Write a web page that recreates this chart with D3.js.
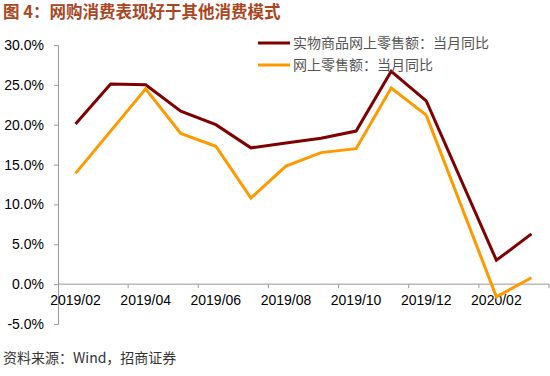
<!DOCTYPE html>
<html lang="zh">
<head>
<meta charset="UTF-8">
<script src="https://d3js.org/d3.v7.min.js"></script>
<style>
  body { margin: 0; background: #fff; }
  svg { display: block; }
  .axis text { font-family: "Liberation Sans", Arial, sans-serif; font-size: 14px; fill: #000; }
  .axis path, .axis line { stroke: #999; }
</style>
</head>
<body>
<svg id="chart" width="550" height="376"></svg>
<script>
// 数据（2020/01 无数据）
const months = ["2019/02","2019/03","2019/04","2019/05","2019/06","2019/07","2019/08",
                "2019/09","2019/10","2019/11","2019/12","2020/01","2020/02","2020/03"];
const physicalOnline = [20.1, 25.1, 25.0, 21.7, 20.0, 17.1, 17.7, 18.3, 19.2, 26.7, 23.0, null, 3.0, 6.3];
const onlineRetail   = [13.9, 19.2, 24.5, 18.9, 17.3, 10.8, 14.8, 16.5, 17.0, 24.6, 21.2, null, -1.6, 0.8];
const seriesNames = ["实物商品网上零售额：当月同比", "网上零售额：当月同比"];
const yTicks = [-5, 0, 5, 10, 15, 20, 25, 30];
const xLabels = ["2019/02","2019/04","2019/06","2019/08","2019/10","2019/12","2020/02"];

const colors = ["#7f0000", "#ff9900"];
const svg = d3.select("#chart");

const x = d3.scaleBand().domain(months).range([58, 549]);
const y = d3.scaleLinear().domain([-5, 30]).range([324, 45]);

// 标题
svg.append("text")
  .attr("x", 3).attr("y", 18)
  .attr("font-family", "'Noto Sans CJK SC', sans-serif")
  .attr("font-size", 16.5).attr("font-weight", "bold")
  .attr("fill", "#a8461f")
  .text("图 4：网购消费表现好于其他消费模式");

// y 轴
svg.append("g")
  .attr("class", "axis")
  .attr("transform", "translate(58,0)")
  .call(d3.axisLeft(y).tickValues(yTicks).tickSize(4).tickPadding(10)
    .tickFormat(d => d.toFixed(1) + "%"));

// x 轴 (在 0 处)
const xAxis = svg.append("g").attr("class", "axis");
xAxis.append("line")
  .attr("x1", 58).attr("x2", 549)
  .attr("y1", y(0)).attr("y2", y(0));
const bw = x.bandwidth();
months.forEach((m, i) => {
  if (i % 2 === 0 && i > 0) {
    xAxis.append("line")
      .attr("x1", x(m)).attr("x2", x(m))
      .attr("y1", y(0)).attr("y2", y(0) + 4);
  }
});
xAxis.append("line")
  .attr("x1", 549).attr("x2", 549)
  .attr("y1", y(0)).attr("y2", y(0) + 4);
xAxis.selectAll("text.xl")
  .data(xLabels)
  .enter().append("text")
  .attr("class", "xl")
  .attr("x", d => x(d) + bw / 2)
  .attr("y", y(0) + 21)
  .attr("text-anchor", "middle")
  .text(d => d);

// 折线
const line = d3.line()
  .x(d => x(d[0]) + bw / 2)
  .y(d => y(d[1]));

[physicalOnline, onlineRetail].forEach((vals, k) => {
  const pts = months.map((m, i) => [m, vals[i]]).filter(d => d[1] !== null);
  svg.append("path")
    .datum(pts)
    .attr("fill", "none")
    .attr("stroke", colors[k])
    .attr("stroke-width", 3)
    .attr("d", line);
});

// 图例
seriesNames.forEach((name, k) => {
  const ly = 43 + k * 22;
  svg.append("line")
    .attr("x1", 258).attr("x2", 290)
    .attr("y1", ly).attr("y2", ly)
    .attr("stroke", colors[k]).attr("stroke-width", 3);
  svg.append("text")
    .attr("x", 293).attr("y", ly + 5)
    .attr("font-family", "'Noto Sans CJK SC', sans-serif")
    .attr("font-size", 14).attr("fill", "#555")
    .text(name);
});

// 资料来源
svg.append("text")
  .attr("x", 3).attr("y", 363)
  .attr("font-family", "'Noto Sans CJK SC', sans-serif")
  .attr("font-size", 14).attr("fill", "#333")
  .text("资料来源：Wind，招商证券");
</script>
</body>
</html>
